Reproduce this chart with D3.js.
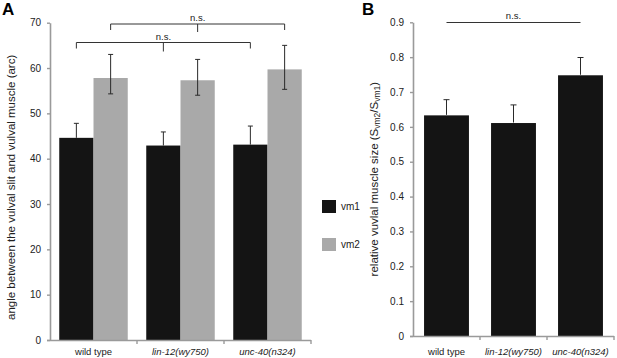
<!DOCTYPE html>
<html><head><meta charset="utf-8">
<script src="https://cdn.jsdelivr.net/npm/d3@7"></script>
<style>
body{margin:0;background:#fff;}
svg{display:block;font-family:"Liberation Sans",Arial,sans-serif;}
</style></head>
<body><svg id="c" width="617" height="358"></svg>
<script>
// ---- data ----
const categories = ["wild type", "lin-12(wy750)", "unc-40(n324)"];
const italicCats = [false, true, true];
const series = ["vm1", "vm2"];
const vm1Values = [44.6, 42.9, 43.1];
const vm1ErrUp = [3.2, 3.0, 4.1];
const vm2Values = [57.8, 57.3, 59.7];
const vm2ErrUp = [5.2, 4.6, 5.3];
const vm2ErrDown = [3.5, 3.3, 4.4];
const ticksA = [0, 10, 20, 30, 40, 50, 60, 70];
const ratioValues = [0.633, 0.611, 0.748];
const ratioErrUp = [0.045, 0.052, 0.051];
const ticksB = [0, 0.1, 0.2, 0.3, 0.4, 0.5, 0.6, 0.7, 0.8, 0.9];
const colors = {vm1: "#141414", vm2: "#a9a9a9"};

const svg = d3.select("#c");
const axisColor = "#9a9a9a";
const textColor = "#222";

function styleAxis(g){
  g.selectAll(".domain").attr("stroke", axisColor).attr("stroke-width", 1.6);
  g.selectAll(".tick line").attr("stroke", axisColor).attr("stroke-width", 1.4);
  g.selectAll(".tick text").attr("fill", textColor);
}

// ================= Panel A =================
const A = {left: 50, right: 311, top: 22.7, bottom: 340};
const xA = d3.scaleBand().domain(categories).range([A.left, A.right]).padding(0);
const xSub = d3.scaleBand().domain(series).range([0, xA.bandwidth()]).paddingInner(0).paddingOuter(0.27);
const yA = d3.scaleLinear().domain([0, 70]).range([A.bottom, A.top]);

const gA = svg.append("g");
const dataA = [];
categories.forEach((c, i) => {
  dataA.push({cat: c, s: "vm1", v: vm1Values[i], up: vm1ErrUp[i], down: 0});
  dataA.push({cat: c, s: "vm2", v: vm2Values[i], up: vm2ErrUp[i], down: vm2ErrDown[i]});
});
gA.selectAll("rect.bar").data(dataA).join("rect")
  .attr("x", d => xA(d.cat) + xSub(d.s))
  .attr("y", d => yA(d.v))
  .attr("width", xSub.bandwidth())
  .attr("height", d => yA(0) - yA(d.v))
  .attr("fill", d => colors[d.s]);
const eb = gA.selectAll("g.err").data(dataA).join("g").attr("stroke", "#2a2a2a").attr("stroke-width", 1);
eb.append("line")
  .attr("x1", d => xA(d.cat) + xSub(d.s) + xSub.bandwidth()/2)
  .attr("x2", d => xA(d.cat) + xSub(d.s) + xSub.bandwidth()/2)
  .attr("y1", d => yA(d.v - d.down)).attr("y2", d => yA(d.v + d.up));
eb.append("line")
  .attr("x1", d => xA(d.cat) + xSub(d.s) + xSub.bandwidth()/2 - 2.5)
  .attr("x2", d => xA(d.cat) + xSub(d.s) + xSub.bandwidth()/2 + 2.5)
  .attr("y1", d => yA(d.v + d.up)).attr("y2", d => yA(d.v + d.up));
eb.filter(d => d.down > 0).append("line")
  .attr("x1", d => xA(d.cat) + xSub(d.s) + xSub.bandwidth()/2 - 2.5)
  .attr("x2", d => xA(d.cat) + xSub(d.s) + xSub.bandwidth()/2 + 2.5)
  .attr("y1", d => yA(d.v - d.down)).attr("y2", d => yA(d.v - d.down));

const yAxA = gA.append("g").attr("transform", `translate(${A.left},0)`)
  .call(d3.axisLeft(yA).tickValues(ticksA).tickFormat(d3.format("d")).tickSize(3).tickSizeOuter(0).tickPadding(6));
yAxA.attr("font-size", 10).attr("font-family", null);
styleAxis(yAxA);
const xAxA = gA.append("g").attr("transform", `translate(0,${A.bottom})`)
  .call(d3.axisBottom(xA).tickSize(0).tickPadding(8));
xAxA.attr("font-size", 9.5).attr("font-family", null);
xAxA.select(".domain").attr("d", `M${A.left-3},0.5H${A.right}`);
styleAxis(xAxA);
xAxA.selectAll(".tick text").attr("font-style", (d, i) => italicCats[i] ? "italic" : "normal");
const bA = categories.map(c => xA(c) + xA.bandwidth());
xAxA.selectAll("line.bt").data(bA).join("line").attr("class", "bt")
  .attr("x1", d => d).attr("x2", d => d).attr("y1", 0).attr("y2", 4)
  .attr("stroke", axisColor).attr("stroke-width", 1.4);

svg.append("text").attr("transform", `translate(15,${(A.top + A.bottom)/2 + 6}) rotate(-90)`)
  .attr("text-anchor", "middle").attr("font-size", 11.5).attr("fill", textColor)
  .text("angle between the vulval slit and vulval muscle (arc)");

function bracket(x1, x2, y, tick, midTick, label){
  const g = svg.append("g").attr("stroke", "#333").attr("stroke-width", 1).attr("fill", "none");
  g.append("path").attr("d", `M${x1},${y+tick}V${y}H${x2}V${y+tick}M${(x1+x2)/2},${y}V${y+midTick}`);
  svg.append("text").attr("x", (x1+x2)/2).attr("y", y - 3).attr("text-anchor", "middle")
    .attr("font-size", 9.5).attr("fill", textColor).text(label);
}
const cx = (c, s) => xA(c) + xSub(s) + xSub.bandwidth()/2;
bracket(cx(categories[0], "vm1"), cx(categories[2], "vm1"), 42.5, 6, 9, "n.s.");
bracket(cx(categories[0], "vm2"), cx(categories[2], "vm2"), 24, 6, 8, "n.s.");

svg.append("text").attr("x", 2).attr("y", 15).attr("font-size", 17).attr("font-weight", "bold").text("A");
svg.append("text").attr("x", 362).attr("y", 15).attr("font-size", 17).attr("font-weight", "bold").text("B");

const leg = svg.append("g").selectAll("g").data(series).join("g")
  .attr("transform", (d, i) => `translate(322,${200 + i*38})`);
leg.append("rect").attr("width", 14).attr("height", 13).attr("fill", d => colors[d]);
leg.append("text").attr("x", 19).attr("y", 10).attr("font-size", 10).attr("fill", textColor).text(d => d);

// ================= Panel B =================
const B = {left: 413, right: 614, top: 22.3, bottom: 336};
const xB = d3.scaleBand().domain(categories).range([B.left, B.right]).paddingInner(0).paddingOuter(0);
const barPadB = 0.33;
const yB = d3.scaleLinear().domain([0, 0.9]).range([B.bottom, B.top]);
const bwB = xB.bandwidth() * (1 - barPadB);
const gB = svg.append("g");
const dataB = categories.map((c, i) => ({cat: c, v: ratioValues[i], up: ratioErrUp[i]}));
gB.selectAll("rect").data(dataB).join("rect")
  .attr("x", d => xB(d.cat) + (xB.bandwidth() - bwB)/2)
  .attr("y", d => yB(d.v)).attr("width", bwB)
  .attr("height", d => yB(0) - yB(d.v)).attr("fill", colors.vm1);
const ebB = gB.selectAll("g.err").data(dataB).join("g").attr("stroke", "#2a2a2a").attr("stroke-width", 1);
ebB.append("line").attr("x1", d => xB(d.cat) + xB.bandwidth()/2).attr("x2", d => xB(d.cat) + xB.bandwidth()/2)
  .attr("y1", d => yB(d.v) - 0.5).attr("y2", d => yB(d.v + d.up));
ebB.append("line").attr("x1", d => xB(d.cat) + xB.bandwidth()/2 - 3).attr("x2", d => xB(d.cat) + xB.bandwidth()/2 + 3)
  .attr("y1", d => yB(d.v + d.up)).attr("y2", d => yB(d.v + d.up));

const yAxB = gB.append("g").attr("transform", `translate(${B.left},0)`)
  .call(d3.axisLeft(yB).tickValues(ticksB).tickFormat(d => d === 0 ? "0" : d3.format(".1f")(d)).tickSize(3).tickSizeOuter(0).tickPadding(6));
yAxB.attr("font-size", 10).attr("font-family", null);
styleAxis(yAxB);
const xAxB = gB.append("g").attr("transform", `translate(0,${B.bottom})`)
  .call(d3.axisBottom(xB).tickSize(0).tickPadding(12));
xAxB.attr("font-size", 9.5).attr("font-family", null);
xAxB.select(".domain").attr("d", `M${B.left-3},0.5H${B.right}`);
styleAxis(xAxB);
xAxB.selectAll(".tick text").attr("font-style", (d, i) => italicCats[i] ? "italic" : "normal");
xAxB.selectAll("line.bt").data(categories.map(c => xB(c) + xB.bandwidth())).join("line").attr("class", "bt")
  .attr("x1", d => d).attr("x2", d => d).attr("y1", 0).attr("y2", 4)
  .attr("stroke", axisColor).attr("stroke-width", 1.4);

const ylB = svg.append("text").attr("transform", `translate(378,${(B.top + B.bottom)/2}) rotate(-90)`)
  .attr("text-anchor", "middle").attr("font-size", 11.5).attr("fill", textColor);
ylB.append("tspan").text("relative vuvlal muscle size (S");
ylB.append("tspan").attr("font-size", 8.5).attr("dy", 2).text("vm2");
ylB.append("tspan").attr("dy", -2).text("/S");
ylB.append("tspan").attr("font-size", 8.5).attr("dy", 2).text("vm1");
ylB.append("tspan").attr("dy", -2).text(")");

const nsx1 = xB(categories[0]) + xB.bandwidth()/2, nsx2 = xB(categories[2]) + xB.bandwidth()/2;
svg.append("line").attr("x1", nsx1).attr("x2", nsx2).attr("y1", 22.5).attr("y2", 22.5).attr("stroke", "#333").attr("stroke-width", 1);
svg.append("text").attr("x", (nsx1 + nsx2)/2).attr("y", 19).attr("text-anchor", "middle")
  .attr("font-size", 9.5).attr("fill", textColor).text("n.s.");
</script></body></html>
